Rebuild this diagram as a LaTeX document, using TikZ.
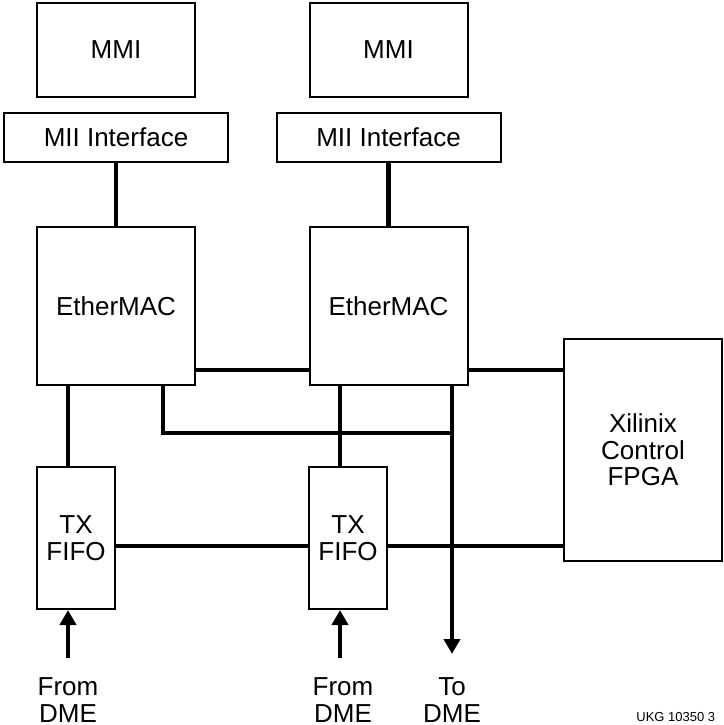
\documentclass[tikz,border=0pt]{standalone}
\usepackage{fontspec}
\setmainfont{Liberation Sans}
\usetikzlibrary{arrows.meta}

\begin{document}
\begin{tikzpicture}[
  x=0.5pt, y=-0.5pt,
  blk/.style={draw, line width=1pt, inner sep=0pt, align=center, font=\fontsize{13}{13.3}\selectfont},
  bus/.style={line width=2.2pt},
  feed/.style={line width=2.2pt, -{Triangle[length=7.5pt, width=8pt]}},
  tag/.style={align=center, inner sep=0pt, font=\fontsize{13}{13.3}\selectfont},
]
\useasboundingbox (0,0) rectangle (724,725);

% ---- management side, one stack per channel ----
\node[blk, minimum width=79pt, minimum height=47pt]   (mmiA) at (116,50)    {MMI};
\node[blk, minimum width=79pt, minimum height=47pt]   (mmiB) at (388.5,50)  {MMI};
\node[blk, minimum width=112pt, minimum height=24.5pt] (miiA) at (116,137.5) {MII Interface};
\node[blk, minimum width=112pt, minimum height=24.5pt] (miiB) at (388.5,137.5) {MII Interface};

% ---- MACs, FIFOs and the control FPGA ----
\node[blk, minimum width=79pt, minimum height=79pt]  (macA) at (116,306)   {EtherMAC};
\node[blk, minimum width=79pt, minimum height=79pt]  (macB) at (388.5,306) {EtherMAC};
\node[blk, minimum width=39pt, minimum height=71pt]  (fifoA) at (76,538)   {TX\\FIFO};
\node[blk, minimum width=39pt, minimum height=71pt]  (fifoB) at (348,538)  {TX\\FIFO};
\node[blk, minimum width=79pt, minimum height=111pt] (xil) at (643,450)    {Xilinix\\Control\\FPGA};

% ---- bus rows and DME ends ----
\coordinate (ctl)  at (0,370);
\coordinate (dat)  at (0,546);
\coordinate (tapA) at (163,433);
\coordinate (dinA) at (68,658);
\coordinate (dinB) at (340,658);
\coordinate (dout) at (452,654);

% ---- MII to MAC ----
\draw[bus] (miiA.south) -- (macA.north);
\draw[bus] (miiB.south) -- (macB.north);

% ---- control bus to the FPGA ----
\draw[bus] (macA.east |- ctl) -- (macB.west |- ctl);
\draw[bus] (macB.east |- ctl) -- (xil.west |- ctl);

% ---- receive path out to the DME ----
\draw[bus] (macA.south -| tapA) -- (tapA) -- (tapA -| dout);
\draw[feed] (macB.south -| dout) -- (dout);

% ---- transmit FIFOs ----
\draw[bus] (fifoA.north -| dinA) -- (macA.south -| dinA);
\draw[bus] (fifoB.north -| dinB) -- (macB.south -| dinB);
\draw[bus] (fifoA.east |- dat) -- (fifoB.west |- dat);
\draw[bus] (fifoB.east |- dat) -- (xil.west |- dat);
\draw[feed] (dinA) -- (dinA |- fifoA.south);
\draw[feed] (dinB) -- (dinB |- fifoB.south);

% ---- labels ----
\node[tag] (srcA) at (68,700)  {From\\DME};
\node[tag] (srcB) at (343,700) {From\\DME};
\node[tag] (dst)  at (452,700) {To\\DME};
\node[anchor=north west, inner sep=0pt, font=\fontsize{6.5}{7}\selectfont] (figid) at (636,712) {UKG 10350 3};

\end{tikzpicture}
\end{document}
